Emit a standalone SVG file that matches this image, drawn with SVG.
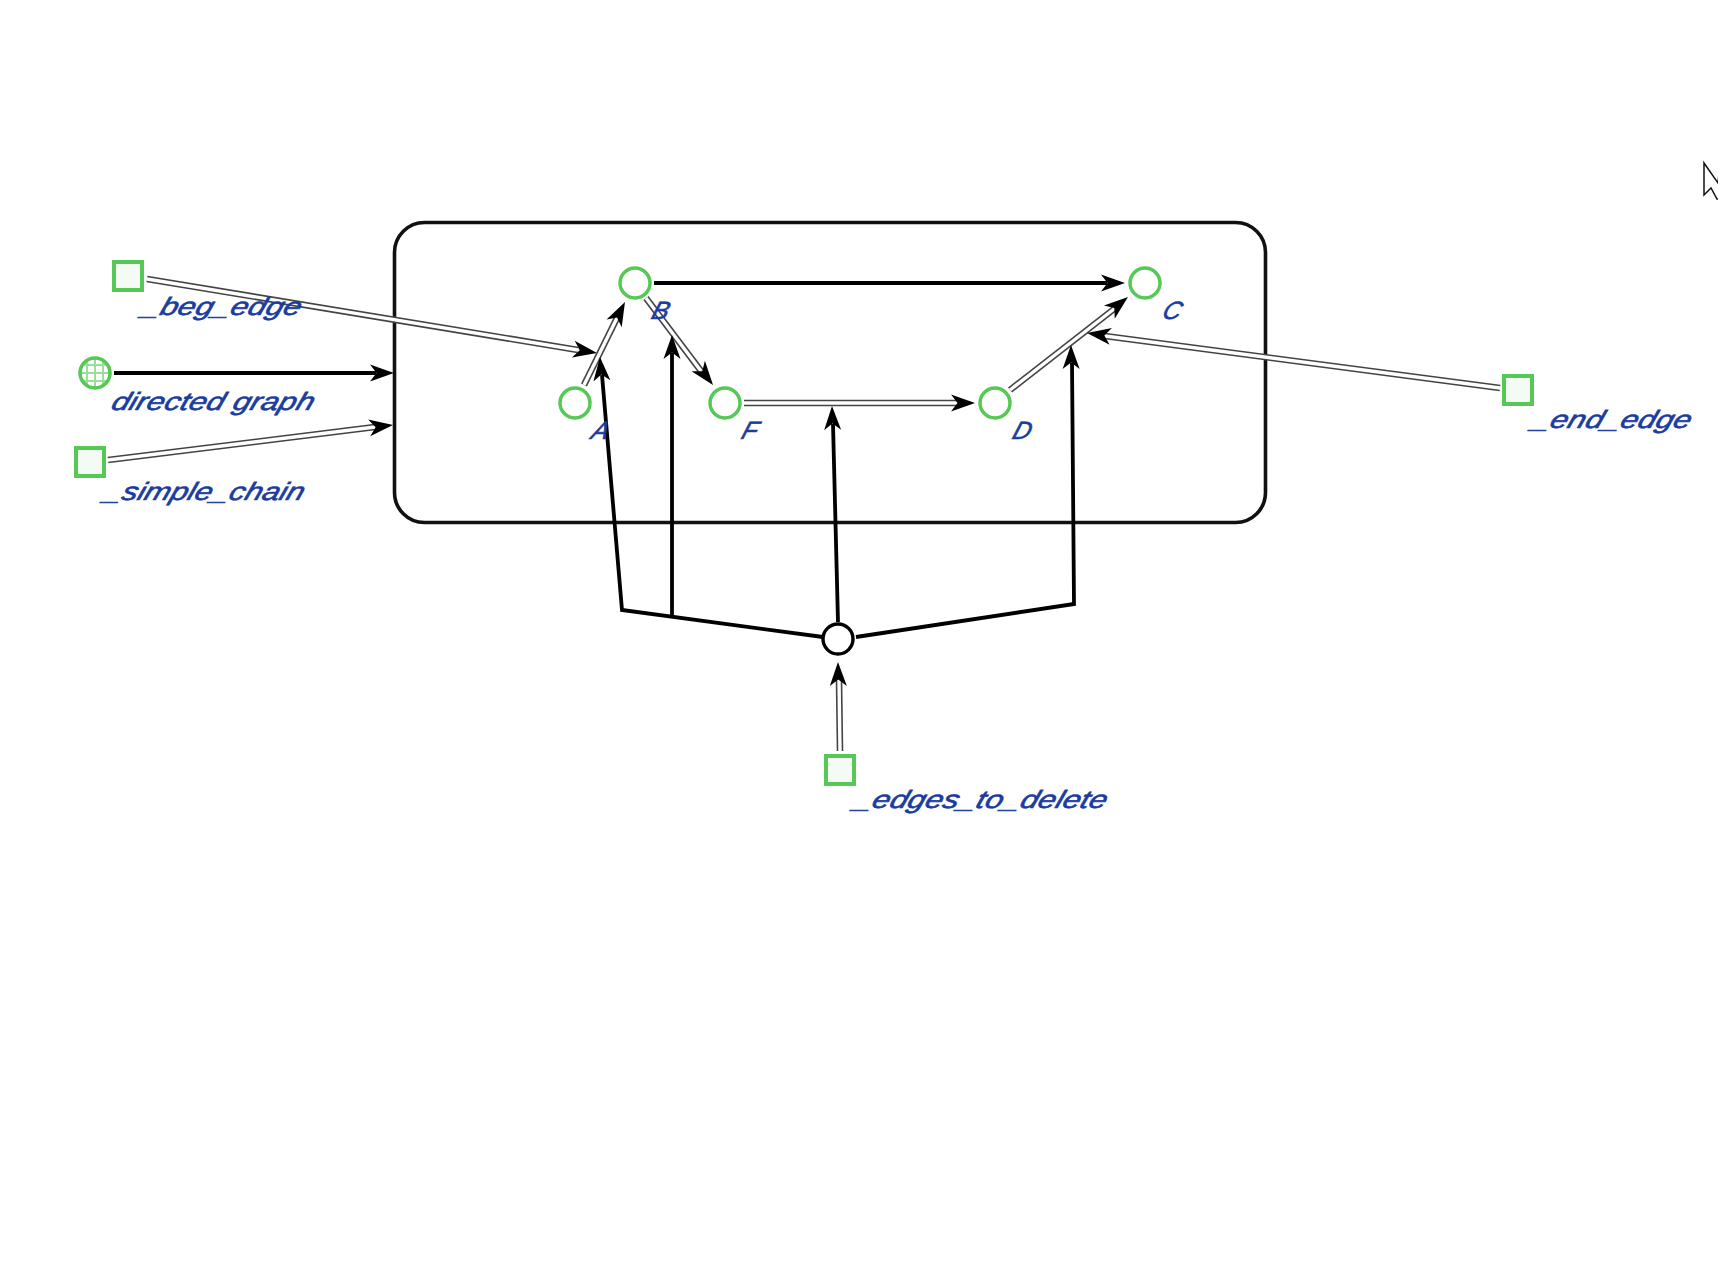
<svg xmlns="http://www.w3.org/2000/svg" xmlns:xlink="http://www.w3.org/1999/xlink" width="1718" height="1272" viewBox="0 0 1718 1272">
<defs>
<style>
.box{fill:#fff;stroke:#111;stroke-width:3.6}
.n{fill:#fff;stroke:#55c855;stroke-width:3.5}
.s{fill:#f4fbf4;stroke:#55c855;stroke-width:4}
.k{fill:none;stroke:#000;stroke-width:3.8;stroke-linejoin:miter}
.do{fill:none;stroke:#444;stroke-width:6.6}
.di{fill:none;stroke:#fff;stroke-width:3.4}
.t{font-family:"Liberation Sans",Arial,sans-serif;font-style:italic;font-size:25px;fill:#1a3c9e;stroke:#1a3c9e;stroke-width:.6}
</style>
<path id="h" d="M0 0L-24-8.5L-17.5 0L-24 8.5Z" fill="#000"/>
</defs>
<rect width="1718" height="1272" fill="#fff"/>
<g id="container"><rect class="box" x="394.5" y="222.5" width="871" height="300" rx="30"/></g>
<g id="connectors">
<path class="do" d="M147 279L578 350"/><path class="di" d="M147 279L578 350"/><use xlink:href="#h" transform="translate(597 353) rotate(9.4)"/>
<path class="k" d="M114 373H376"/><use xlink:href="#h" transform="translate(394 373)"/>
<path class="do" d="M108 460L375 427"/><path class="di" d="M108 460L375 427"/><use xlink:href="#h" transform="translate(393 425) rotate(-7)"/>
<path class="do" d="M584 385L617 318"/><path class="di" d="M584 385L617 318"/><use xlink:href="#h" transform="translate(625 302) rotate(-63)"/>
<path class="do" d="M646 298L701 371"/><path class="di" d="M646 298L701 371"/><use xlink:href="#h" transform="translate(713 385) rotate(52)"/>
<path class="k" d="M654 283H1107"/><use xlink:href="#h" transform="translate(1125 283)"/>
<path class="do" d="M744 403H957"/><path class="di" d="M744 403H957"/><use xlink:href="#h" transform="translate(975 403)"/>
<path class="do" d="M1010 390L1114 309"/><path class="di" d="M1010 390L1114 309"/><use xlink:href="#h" transform="translate(1128 297) rotate(-39)"/>
<path class="do" d="M1500 388L1105 336"/><path class="di" d="M1500 388L1105 336"/><use xlink:href="#h" transform="translate(1087 333) rotate(188)"/>
<path class="k" d="M823 637L622 610L602 375"/><use xlink:href="#h" transform="translate(600 357) rotate(-94.5)"/>
<path class="k" d="M672 616V353"/><use xlink:href="#h" transform="translate(672 335) rotate(-90)"/>
<path class="k" d="M838 622L833 424"/><use xlink:href="#h" transform="translate(832 406) rotate(-91.5)"/>
<path class="k" d="M856 637L1074 604L1072 363"/><use xlink:href="#h" transform="translate(1071 345) rotate(-90.3)"/>
<path class="do" d="M840 751L839 680"/><path class="di" d="M840 751L839 680"/><use xlink:href="#h" transform="translate(838 662) rotate(-90.8)"/>
</g>
<g id="beg_edge"><rect class="s" x="114" y="262" width="28" height="28"/><text class="t" transform="translate(141 315) skewX(-18)" textLength="158" lengthAdjust="spacingAndGlyphs">_beg_edge</text></g>
<g id="directed_graph"><circle class="n" cx="95" cy="373" r="15"/><path d="M80 373H110M95 358V388M84 365H106M84 381H106M87 362V384M103 362V384" fill="none" stroke="#55c855" stroke-width="2" opacity=".6"/><text class="t" transform="translate(110 410) skewX(-18)" textLength="202" lengthAdjust="spacingAndGlyphs">directed graph</text></g>
<g id="simple_chain"><rect class="s" x="76" y="448" width="28" height="28"/><text class="t" transform="translate(103 500) skewX(-18)" textLength="199" lengthAdjust="spacingAndGlyphs">_simple_chain</text></g>
<g id="node_A"><circle class="n" cx="575" cy="403" r="15"/><text class="t" transform="translate(590 439) skewX(-18)">A</text></g>
<g id="node_B"><circle class="n" cx="635" cy="283" r="15"/><text class="t" transform="translate(650 319) skewX(-18)">B</text></g>
<g id="node_F"><circle class="n" cx="725" cy="403" r="15"/><text class="t" transform="translate(740 439) skewX(-18)">F</text></g>
<g id="node_D"><circle class="n" cx="995" cy="403" r="15"/><text class="t" transform="translate(1011 439) skewX(-18)">D</text></g>
<g id="node_C"><circle class="n" cx="1145" cy="283" r="15"/><text class="t" transform="translate(1161 319) skewX(-18)">C</text></g>
<g id="junction"><circle cx="838" cy="639" r="15" fill="#fff" stroke="#000" stroke-width="3.4"/></g>
<g id="edges_to_delete"><rect class="s" x="826" y="756" width="28" height="28"/><text class="t" transform="translate(853 808) skewX(-18)" textLength="252" lengthAdjust="spacingAndGlyphs">_edges_to_delete</text></g>
<g id="end_edge"><rect class="s" x="1504" y="376" width="28" height="28"/><text class="t" transform="translate(1531 428) skewX(-18)" textLength="158" lengthAdjust="spacingAndGlyphs">_end_edge</text></g>
<path id="cursor" d="M1704 163V195L1711 188L1717 199H1720V163L1718 183Z" fill="#fff" stroke="#111" stroke-width="1.5"/>
</svg>
